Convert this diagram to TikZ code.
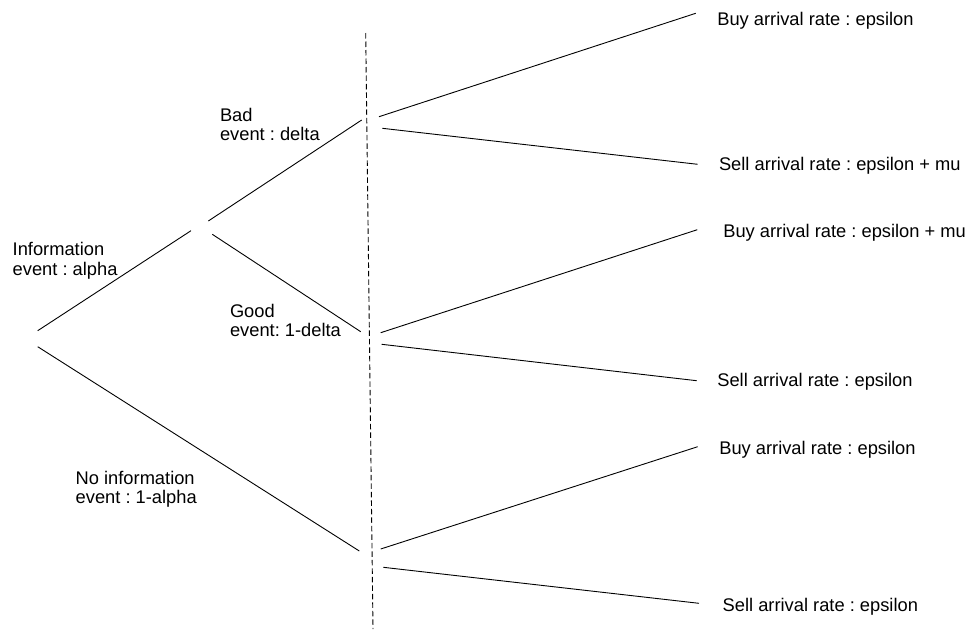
\documentclass[tikz,border=0pt]{standalone}
\usepackage{fontspec}
\setmainfont{Liberation Sans}
\begin{document}
\frenchspacing
\begin{tikzpicture}[x=1pt,y=-1pt,
  branch/.style={draw=black,line width=0.9pt},
  divider/.style={draw=black,line width=0.9pt,dash pattern=on 5.5pt off 3pt},
  lbl/.style={anchor=base west,inner sep=0pt,outer sep=0pt,
    font=\fontsize{18.3}{19.5}\selectfont}]
\newcommand{\twolines}[2]{\vtop{\baselineskip=19.5pt\hbox{#1}\hbox{#2}}}
\useasboundingbox (0,0) rectangle (968,629);
% tree end points
\coordinate (rootA) at (37.7,330.7);
\coordinate (rootB) at (37.7,346.7);
\coordinate (infoEnd) at (191,230.7);
\coordinate (badStart) at (208.3,221);
\coordinate (goodStart) at (212.3,234.3);
\coordinate (badEnd) at (361.7,120);
\coordinate (goodEnd) at (360.7,331.7);
\coordinate (noEnd) at (359.3,551);
\coordinate (bBuyS) at (379,116.7);
\coordinate (bBuyE) at (695.7,13.3);
\coordinate (bSellS) at (382.3,128.3);
\coordinate (bSellE) at (697.7,164.3);
\coordinate (gBuyS) at (380.7,332.7);
\coordinate (gBuyE) at (697.3,229.7);
\coordinate (gSellS) at (381.7,344.3);
\coordinate (gSellE) at (696.7,380.7);
\coordinate (nBuyS) at (380.7,549);
\coordinate (nBuyE) at (697.7,446.7);
\coordinate (nSellS) at (383.3,567.3);
\coordinate (nSellE) at (699,603.3);
\coordinate (divTop) at (365.7,33);
\coordinate (divBot) at (373,629);
% connectors
\draw[branch] (rootA) -- (infoEnd);
\draw[branch] (rootB) -- (noEnd);
\draw[branch] (badStart) -- (badEnd);
\draw[branch] (goodStart) -- (goodEnd);
\draw[branch] (bBuyS) -- (bBuyE);
\draw[branch] (bSellS) -- (bSellE);
\draw[branch] (gBuyS) -- (gBuyE);
\draw[branch] (gSellS) -- (gSellE);
\draw[branch] (nBuyS) -- (nBuyE);
\draw[branch] (nSellS) -- (nSellE);
\draw[divider] (divTop) -- (divBot);
% labels
\node[lbl] (info) at (12.7,255.7) {\twolines{Information}{event : alpha}};
\node[lbl] (bad) at (220,121) {\twolines{Bad}{event : delta}};
\node[lbl] (good) at (230,317.3) {\twolines{Good}{event: 1-delta}};
\node[lbl] (noinfo) at (75.7,484.3) {\twolines{No information}{event : 1-alpha}};
\node[lbl] (buy1) at (717.3,25) {Buy arrival rate : epsilon};
\node[lbl] (sell1) at (719,170) {Sell arrival rate : epsilon + mu};
\node[lbl] (buy2) at (723.3,237.3) {Buy arrival rate : epsilon + mu};
\node[lbl] (sell2) at (717.3,386.7) {Sell arrival rate : epsilon};
\node[lbl] (buy3) at (719.3,454) {Buy arrival rate : epsilon};
\node[lbl] (sell3) at (722.7,611.7) {Sell arrival rate : epsilon};
\end{tikzpicture}
\end{document}
